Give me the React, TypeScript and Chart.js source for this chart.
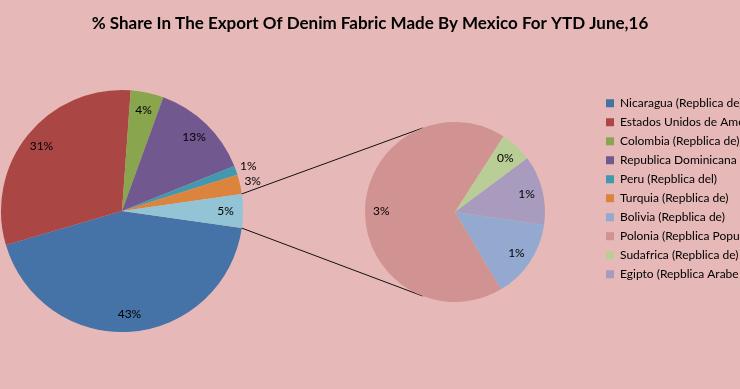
import React, { useEffect, useRef } from "react";
import { Chart, registerables } from "chart.js";

Chart.register(...registerables);

const TITLE = "% Share In The Export Of Denim Fabric Made By Mexico For YTD June,16";
const FONT = "Lato, 'Open Sans', sans-serif";

const primaryLabels = [
  "Nicaragua (Repblica de)",
  "Estados Unidos de America",
  "Colombia (Repblica de)",
  "Republica Dominicana",
  "Peru (Repblica del)",
  "Turquia (Repblica de)",
];
const primaryValues = [43.2, 30.7, 4.4, 13.4, 1.2, 2.6];
const primaryColors = ["#4572A7", "#AA4643", "#89A54E", "#71588F", "#4198AF", "#DB843D"];

const secondaryLabels = [
  "Bolivia (Repblica de)",
  "Polonia (Repblica Popular)",
  "Sudafrica (Repblica de)",
  "Egipto (Repblica Arabe de)",
];
const secondaryValues = [0.64, 3.05, 0.26, 0.56];
const secondaryColors = ["#93A9CF", "#D19392", "#B9CD96", "#A99BBD"];

const otherLabel = "Other";
const otherColor = "#93C4D6";

const otherValue = secondaryValues.reduce((a, b) => a + b, 0);
const grandTotal = primaryValues.reduce((a, b) => a + b, 0) + otherValue;
const ROTATION = 90 + (otherValue / grandTotal) * 180;
const CONNECTOR_ANGLE = (111 * Math.PI) / 180;

const pctText = (v: number) => Math.round((v / grandTotal) * 100) + "%";

const makeLabelPlugin = (mode: "main" | "sec") => ({
  id: "pctLabels_" + mode,
  afterDatasetsDraw(chart: any) {
    const meta = chart.getDatasetMeta(0);
    const values = chart.data.datasets[0].data as number[];
    const ctx = chart.ctx as CanvasRenderingContext2D;
    ctx.save();
    ctx.font = `12px ${FONT}`;
    ctx.fillStyle = "#000";
    ctx.textAlign = "center";
    ctx.textBaseline = "middle";
    meta.data.forEach((el: any, i: number) => {
      const { x, y, startAngle, endAngle, outerRadius } = el.getProps(
        ["x", "y", "startAngle", "endAngle", "outerRadius"],
        true
      );
      const mid = (startAngle + endAngle) / 2;
      const pct = (values[i] / grandTotal) * 100;
      let r: number;
      if (mode === "main") r = pct < 3.5 ? outerRadius + 13 : outerRadius * 0.855;
      else r = outerRadius * 0.82;
      ctx.fillText(pctText(values[i]), x + Math.cos(mid) * r, y + Math.sin(mid) * r);
    });
    ctx.restore();
  },
});

const makeConnectorPlugin = (getMain: () => any) => ({
  id: "connectors",
  beforeDatasetsDraw(chart: any) {
    const main = getMain();
    if (!main) return;
    const m: any = main.getDatasetMeta(0).data[primaryValues.length];
    const s: any = chart.getDatasetMeta(0).data[0];
    if (!m || !s) return;
    const ctx = chart.ctx as CanvasRenderingContext2D;
    ctx.save();
    ctx.strokeStyle = "#111";
    ctx.lineWidth = 1;
    ctx.beginPath();
    ctx.moveTo(m.x + Math.cos(m.startAngle) * m.outerRadius, m.y + Math.sin(m.startAngle) * m.outerRadius);
    ctx.lineTo(s.x + Math.cos(-CONNECTOR_ANGLE) * s.outerRadius, s.y + Math.sin(-CONNECTOR_ANGLE) * s.outerRadius);
    ctx.moveTo(m.x + Math.cos(m.endAngle) * m.outerRadius, m.y + Math.sin(m.endAngle) * m.outerRadius);
    ctx.lineTo(s.x + Math.cos(CONNECTOR_ANGLE) * s.outerRadius, s.y + Math.sin(CONNECTOR_ANGLE) * s.outerRadius);
    ctx.stroke();
    ctx.restore();
  },
});

const legendItems = () => [
  ...primaryLabels.map((t, i) => ({
    text: t,
    fillStyle: primaryColors[i],
    strokeStyle: primaryColors[i],
    lineWidth: 0,
    hidden: false,
    index: i,
    datasetIndex: 0,
  })),
  ...secondaryLabels.map((t, i) => ({
    text: t,
    fillStyle: secondaryColors[i],
    strokeStyle: secondaryColors[i],
    lineWidth: 0,
    hidden: false,
    index: primaryLabels.length + i,
    datasetIndex: 0,
  })),
];

export default function App() {
  const mainRef = useRef<HTMLCanvasElement>(null);
  const secRef = useRef<HTMLCanvasElement>(null);

  useEffect(() => {
    const main = new Chart(mainRef.current!, {
      type: "pie",
      data: {
        labels: [...primaryLabels, otherLabel],
        datasets: [
          {
            data: [...primaryValues, otherValue],
            backgroundColor: [...primaryColors, otherColor],
            borderWidth: 0,
            hoverBorderWidth: 0,
            hoverOffset: 0,
            offset: 0,
          } as any,
        ],
      },
      options: {
        responsive: false,
        animation: false,
        devicePixelRatio: 1,
        events: [],
        rotation: ROTATION,
        layout: { padding: { left: 1, top: 90, right: 497, bottom: 57 } },
        plugins: {
          legend: { display: false },
          title: { display: false },
          tooltip: { enabled: false },
        },
      } as any,
      plugins: [makeLabelPlugin("main")],
    });

    const sec = new Chart(secRef.current!, {
      type: "pie",
      data: {
        labels: secondaryLabels,
        datasets: [
          {
            data: secondaryValues,
            backgroundColor: secondaryColors,
            borderWidth: 0,
            hoverBorderWidth: 0,
            hoverOffset: 0,
            offset: 0,
          } as any,
        ],
      },
      options: {
        responsive: false,
        animation: false,
        devicePixelRatio: 1,
        events: [],
        rotation: ROTATION,
        radius: 90,
        layout: { padding: { left: 0, right: 0, top: 0, bottom: 55.3 } },
        plugins: {
          title: {
            display: true,
            text: TITLE,
            color: "#000",
            fullSize: true,
            font: { family: FONT, size: 17, weight: "bold" },
            padding: { top: 13, bottom: 56.9 },
          },
          subtitle: {
            display: true,
            position: "left",
            text: "",
            padding: { top: 299, bottom: 0 },
            font: { size: 10 },
          },
          legend: {
            display: true,
            position: "right",
            align: "start",
            fullSize: false,
            maxWidth: 141,
            labels: {
              boxWidth: 8,
              boxHeight: 8,
              padding: 7,
              color: "#000",
              font: { family: FONT, size: 12 },
              generateLabels: legendItems,
            },
          },
          tooltip: { enabled: false },
        },
      } as any,
      plugins: [makeConnectorPlugin(() => main), makeLabelPlugin("sec")],
    });

    return () => {
      sec.destroy();
      main.destroy();
    };
  }, []);

  return (
    <div
      style={{
        position: "fixed",
        left: 0,
        top: 0,
        width: 740,
        height: 389,
        overflow: "hidden",
        background: "#E6B9B8",
      }}
    >
      <canvas ref={mainRef} width={740} height={389} style={{ position: "absolute", left: 0, top: 0 }} />
      <canvas ref={secRef} width={740} height={389} style={{ position: "absolute", left: 0, top: 0 }} />
    </div>
  );
}
